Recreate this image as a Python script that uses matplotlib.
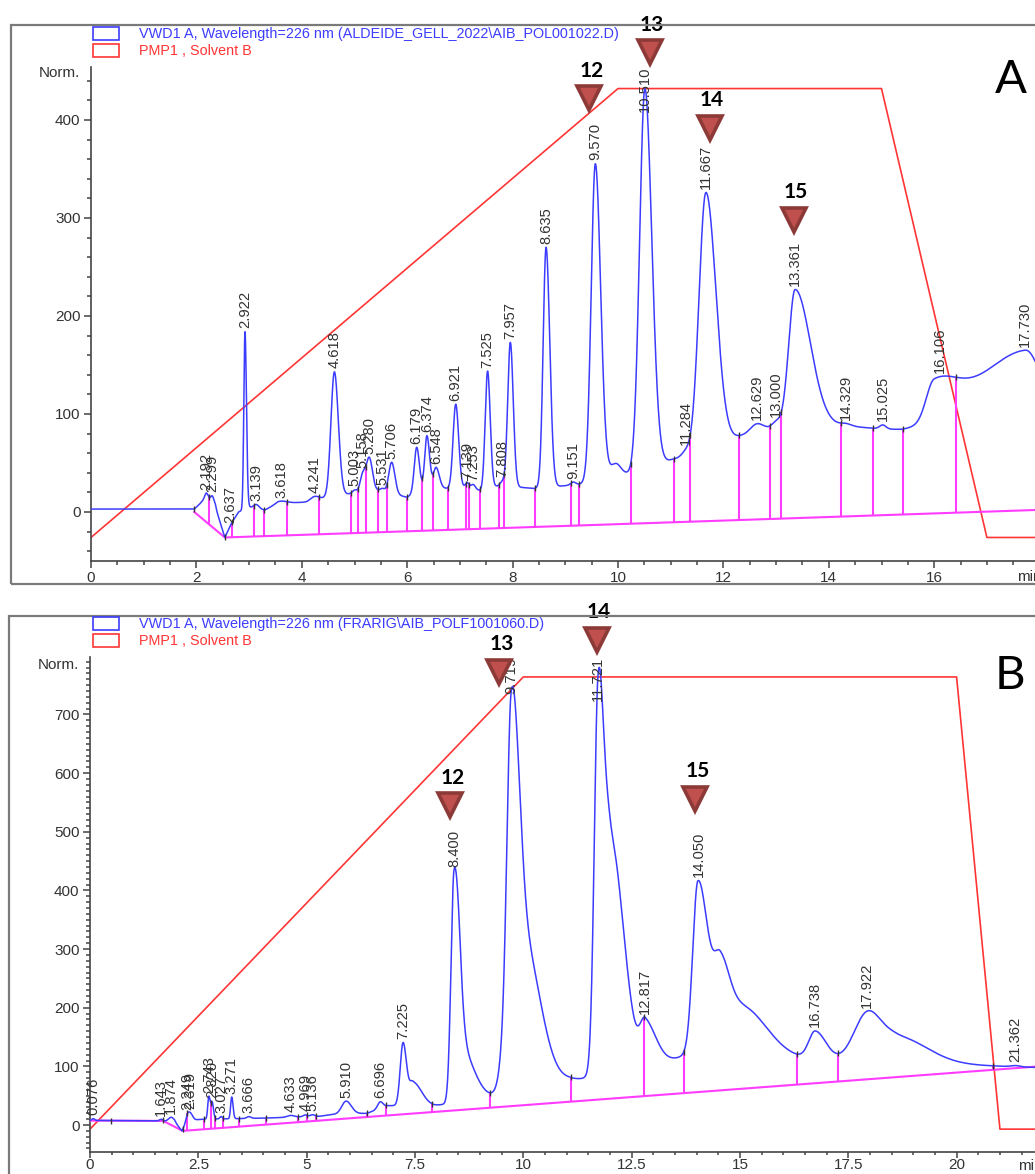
import numpy as np
import matplotlib
matplotlib.use('Agg')
import matplotlib.pyplot as plt
from matplotlib.patches import Rectangle
from matplotlib.ticker import MultipleLocator, FuncFormatter

plt.rcParams['font.family'] = ['Liberation Sans', 'DejaVu Sans']

# ---------------- panel A : ALDEIDE_GELL_2022\AIB_POL001022.D ----------------
# background under the peaks (valley line of the detector signal)
bgA_t = [0, 1.96, 2.1, 2.36, 2.54, 2.66, 2.8, 3.0, 3.3, 3.55, 4.1, 4.4, 4.95, 5.45, 6.0, 6.3,
         6.8, 7.1, 7.4, 7.75, 8.4, 9.25, 10.0, 10.25, 11.05, 11.4, 12.3, 12.9, 13.15, 14.3,
         15.4, 15.7, 17.9]
bgA_v = [3, 3, 10, 5, -26, -12, 0, 5, 2, 9, 10, 14, 19, 22, 15, 25,
         24, 24, 22, 27, 24, 28, 38, 39, 54, 57, 77, 86, 88, 88,
         82, 83, 95]
# peak components: apex time, height above background, left / right width
pkA_t = [2.192, 2.299, 2.922, 3.139, 3.618, 4.241, 4.618, 5.003, 5.158, 5.280, 5.531, 5.706,
         6.179, 6.374, 6.548, 6.921, 7.139, 7.253, 7.525, 7.808, 7.957, 8.635, 9.151, 9.570,
         9.95, 10.510, 11.284, 11.667, 12.629, 13.000, 13.361, 14.329, 15.025, 16.0, 17.730]
pkA_h = [11, 10, 181, 4, 2, 4, 127, 3, 18, 34, 3, 32,
         45, 53, 21, 86, 6, 5, 120, 4, 147, 245, 3, 323,
         12, 388, 5, 263, 8, 5, 139, 2, 4, 40, 71]
pkA_sl = [.04, .035, .022, .05, .1, .08, .065, .04, .05, .055, .04, .055,
          .045, .04, .05, .05, .04, .04, .045, .04, .05, .055, .05, .078,
          .1, .1, .08, .13, .12, .07, .12, .1, .06, .15, .9]
pkA_sr = [.04, .04, .028, .05, .1, .08, .075, .04, .05, .06, .04, .06,
          .05, .05, .06, .055, .04, .04, .05, .04, .055, .07, .05, .1,
          .1, .13, .08, .19, .12, .07, .29, .1, .06, .45, .3]
# integrator marks
labA = [2.192, 2.299, 2.637, 2.922, 3.139, 3.618, 4.241, 4.618, 5.003, 5.158, 5.280, 5.531,
        5.706, 6.179, 6.374, 6.548, 6.921, 7.139, 7.253, 7.525, 7.808, 7.957, 8.635, 9.151,
        9.570, 10.510, 11.284, 11.667, 12.629, 13.000, 13.361, 14.329, 15.025, 16.106, 17.730]
dropA = [2.245, 2.68, 3.09, 3.28, 3.71, 4.33, 4.93, 5.06, 5.21, 5.45, 5.61, 6.0, 6.29, 6.49,
         6.77, 7.11, 7.18, 7.39, 7.74, 7.84, 8.43, 9.11, 9.26, 10.24, 11.06, 11.37, 12.29,
         12.88, 13.10, 14.24, 14.83, 15.40, 16.42]
tickA = [1.96, 2.54]
baseA_t = [1.96, 2.54, 17.9]
baseA_v = [0, -26, 2]
# PMP1 solvent B gradient
gradA_t = [0, 10, 15, 17, 17.9]
gradA_v = [-26, 432, 432, -26, -26]
# compound markers
cmpA_id = ['12', '13', '14', '15']
cmpA_t = [9.457, 10.607, 11.746, 13.34]
cmpA_v = [422, 469, 392, 298]

# ---------------- panel B : FRARIG\AIB_POLF1001060.D ----------------
bgB_t = [0, 1.55, 1.95, 2.12, 2.25, 2.65, 3.5, 4.1, 5.3, 5.6, 6.4, 6.85, 7.95, 9.25, 9.45,
         11.05, 11.45, 13.7, 16.35, 21.9]
bgB_v = [8, 7, 6, -10, 8, 10, 11, 12, 15, 18, 20, 33, 33, 46, 50,
         77, 79, 115, 112, 98]
pkB_t = [0.076, 1.643, 1.874, 2.249, 2.319, 2.743, 2.820, 3.027, 3.271, 3.666, 4.633, 4.969,
         5.136, 5.910, 6.696, 7.225, 7.45, 8.400, 8.55, 9.5, 9.719, 10.0, 11.721, 12.0,
         12.817, 14.030, 14.55, 15.0, 16.738, 17.922, 18.6, 21.362]
pkB_h = [3, 3, 7, 8, 11, 38, 28, 4, 37, 3, 3, 3,
         3, 22, 11, 107, 40, 368, 90, 20, 550, 250, 560, 400,
         70, 288, 100, 90, 48, 75, 45, 2]
pkB_sl = [.03, .04, .06, .04, .05, .025, .03, .03, .025, .05, .08, .05,
          .05, .1, .06, .065, .08, .07, .1, .08, .1, .25, .085, .18,
          .12, .12, .15, .5, .15, .3, .4, .1]
pkB_sr = [.03, .04, .06, .04, .05, .03, .03, .03, .03, .05, .08, .05,
          .05, .12, .06, .08, .2, .12, .3, .08, .17, .38, .12, .31,
          .25, .23, .2, .6, .25, .3, .7, .1]
labB = [0.076, 1.643, 1.874, 2.249, 2.319, 2.743, 2.820, 3.027, 3.271, 3.666, 4.633, 4.969,
        5.136, 5.910, 6.696, 7.225, 8.400, 9.719, 11.721, 12.817, 14.050, 16.738, 17.922, 21.362]
dropB = [1.69, 2.25, 2.63, 2.79, 2.89, 3.06, 3.44, 4.06, 4.80, 5.00, 5.22, 6.39, 6.83, 7.89,
         9.24, 11.10, 12.78, 13.70, 16.32, 17.27, 20.83]
tickB = [0.48, 2.14]
baseB_t = [0, 1.69, 2.14, 21.9]
baseB_v = [7.5, 7, -10, 100]
gradB_t = [0, 10, 20, 21, 21.9]
gradB_v = [-7, 764, 764, -7, -7]
cmpB_id = ['12', '13', '14', '15']
cmpB_t = [8.314, 9.446, 11.70, 13.97]
cmpB_v = [545, 773, 827, 556]

BLUE = '#3c3cff'
RED = '#ff3535'
PINK = '#ff3cff'
TXT = '#333333'
W, H = 1035, 1174


def signal(t, bg_t, bg_v, pk_t, pk_h, pk_sl, pk_sr):
    y = np.interp(t, bg_t, bg_v)
    for c, h, sl, sr in zip(pk_t, pk_h, pk_sl, pk_sr):
        s = np.where(t < c, sl, sr)
        y = y + h * np.exp(-0.5 * ((t - c) / s) ** 2)
    return y


def draw_panel(ax, xmax, sig, base_t, base_v, grad_t, grad_v, drops, ticks, labels,
               cmp_id, cmp_t, cmp_v):
    t = np.linspace(0, xmax, 6000)
    y = sig(t)
    ax.plot(grad_t, grad_v, color=RED, lw=1.2, zorder=2)
    ax.plot(base_t, base_v, color=PINK, lw=1.5, zorder=3)
    # drop lines from the baseline up to the signal
    d = np.array(drops)
    dy = sig(d)
    ax.vlines(d, np.interp(d, base_t, base_v), dy, color=PINK, lw=1.5, zorder=3)
    ax.plot(t, y, color=BLUE, lw=1.1, zorder=4)
    tk = np.concatenate([d, ticks])
    ax.plot(tk, sig(tk), ls='none', marker='|', ms=5, mew=1.0, color='#333333', zorder=5)

    anns = []
    for lt in labels:
        a = ax.annotate('%.3f' % lt, xy=(lt, sig(np.array([lt]))[0]), xytext=(0, 2.5),
                        textcoords='offset points', rotation=90, ha='center', va='bottom',
                        fontsize=10.6, color=TXT, zorder=6)
        anns.append(a)

    ax.plot(cmp_t, cmp_v, ls='none', marker='v', ms=17, mfc='#c0504d', mec='#8c3a37',
            mew=2.6, clip_on=False, zorder=7)
    for cid, ct, cv in zip(cmp_id, cmp_t, cmp_v):
        ax.annotate(cid, xy=(ct, cv), xytext=(1.5, 20), textcoords='offset points',
                    ha='center', va='center', fontsize=15, fontweight='bold',
                    family=['Lato', 'DejaVu Sans'], color='black', annotation_clip=False,
                    zorder=7)

    ax.set_xlim(0, xmax)
    for s in ['top', 'right']:
        ax.spines[s].set_visible(False)
    for s in ['left', 'bottom']:
        ax.spines[s].set_color('#444444')
        ax.spines[s].set_linewidth(1.2)
    ax.tick_params(which='both', colors='#444444', labelcolor=TXT, labelsize=11, width=1.1)
    ax.tick_params(which='major', length=5, pad=2.5)
    ax.tick_params(which='minor', length=3)
    ax.set_facecolor('none')
    return anns


fig = plt.figure(figsize=(W / 100, H / 100), dpi=100)

axA = fig.add_axes([91 / W, 1 - 561 / H, (W - 91) / W, (561 - 67) / H])
sigA = lambda tt: signal(tt, bgA_t, bgA_v, pkA_t, pkA_h, pkA_sl, pkA_sr)
annA = draw_panel(axA, (W - 91) / 52.7, sigA, baseA_t, baseA_v, gradA_t, gradA_v, dropA,
                  tickA, labA, cmpA_id, cmpA_t, cmpA_v)
axA.set_ylim(-50, 454)
axA.xaxis.set_major_locator(MultipleLocator(2))
axA.xaxis.set_minor_locator(MultipleLocator(0.5))
axA.yaxis.set_major_locator(MultipleLocator(100))
axA.yaxis.set_minor_locator(MultipleLocator(20))

axB = fig.add_axes([90 / W, 1 - 1152 / H, (W - 90) / W, (1152 - 657) / H])
sigB = lambda tt: signal(tt, bgB_t, bgB_v, pkB_t, pkB_h, pkB_sl, pkB_sr)
annB = draw_panel(axB, (W - 90) / 43.33, sigB, baseB_t, baseB_v, gradB_t, gradB_v, dropB,
                  tickB, labB, cmpB_id, cmpB_t, cmpB_v)
axB.set_ylim(-46, 798)
axB.xaxis.set_major_locator(MultipleLocator(2.5))
axB.xaxis.set_minor_locator(MultipleLocator(0.5))
axB.xaxis.set_major_formatter(FuncFormatter(lambda v, p: '%g' % v))
axB.yaxis.set_major_locator(MultipleLocator(100))
axB.yaxis.set_minor_locator(MultipleLocator(10))
axB.tick_params(axis='x', which='major', length=4, pad=0.5)
axB.tick_params(axis='x', which='minor', length=2.5)

# gray frames around each panel
for x0, y0, y1 in [(11, 25, 584), (9, 616, 1190)]:
    fig.patches.append(Rectangle((x0 / W, 1 - y1 / H), (W + 20 - x0) / W, (y1 - y0) / H,
                                 transform=fig.transFigure, fill=False, ec='#7a7a7a', lw=1.6))

# legends
legends = [(27, 'VWD1 A, Wavelength=226 nm (ALDEIDE_GELL_2022\\AIB_POL001022.D)'),
           (617, 'VWD1 A, Wavelength=226 nm (FRARIG\\AIB_POLF1001060.D)')]
for ytop, txt in legends:
    for k, (col, lab) in enumerate([(BLUE, txt), (RED, 'PMP1 , Solvent B')]):
        yy = ytop + k * 17
        fig.patches.append(Rectangle((93 / W, 1 - (yy + 13) / H), 26 / W, 13 / H,
                                     transform=fig.transFigure, fill=False, ec=col, lw=1.2))
        fig.text(139 / W, 1 - (yy + 7) / H, lab, color=col, fontsize=10.4, va='center',
                 ha='left')

for x, y in [(59, 73), (58, 665)]:
    fig.text(x / W, 1 - y / H, 'Norm.', fontsize=11, color=TXT, ha='center', va='center')
for x, y in [(1017, 577), (1018, 1166)]:
    fig.text(x / W, 1 - y / H, 'min', fontsize=11, color=TXT, ha='left', va='center')
for x, y, s in [(1011, 80, 'A'), (1010, 676, 'B')]:
    fig.text(x / W, 1 - y / H, s, fontsize=34, color='black', ha='center', va='center',
             family=['Lato', 'DejaVu Sans'])

# keep peak labels inside the plot area, as the integrator does
fig.canvas.draw()
r = fig.canvas.get_renderer()
for ax, anns in [(axA, annA), (axB, annB)]:
    top = ax.get_window_extent(r).y1
    for a in anns:
        bb = a.get_window_extent(r)
        if bb.y1 > top:
            a.xyann = (0, 2.5 - (bb.y1 - top) * 72 / fig.dpi)

fig.savefig('out.png', dpi=100)
